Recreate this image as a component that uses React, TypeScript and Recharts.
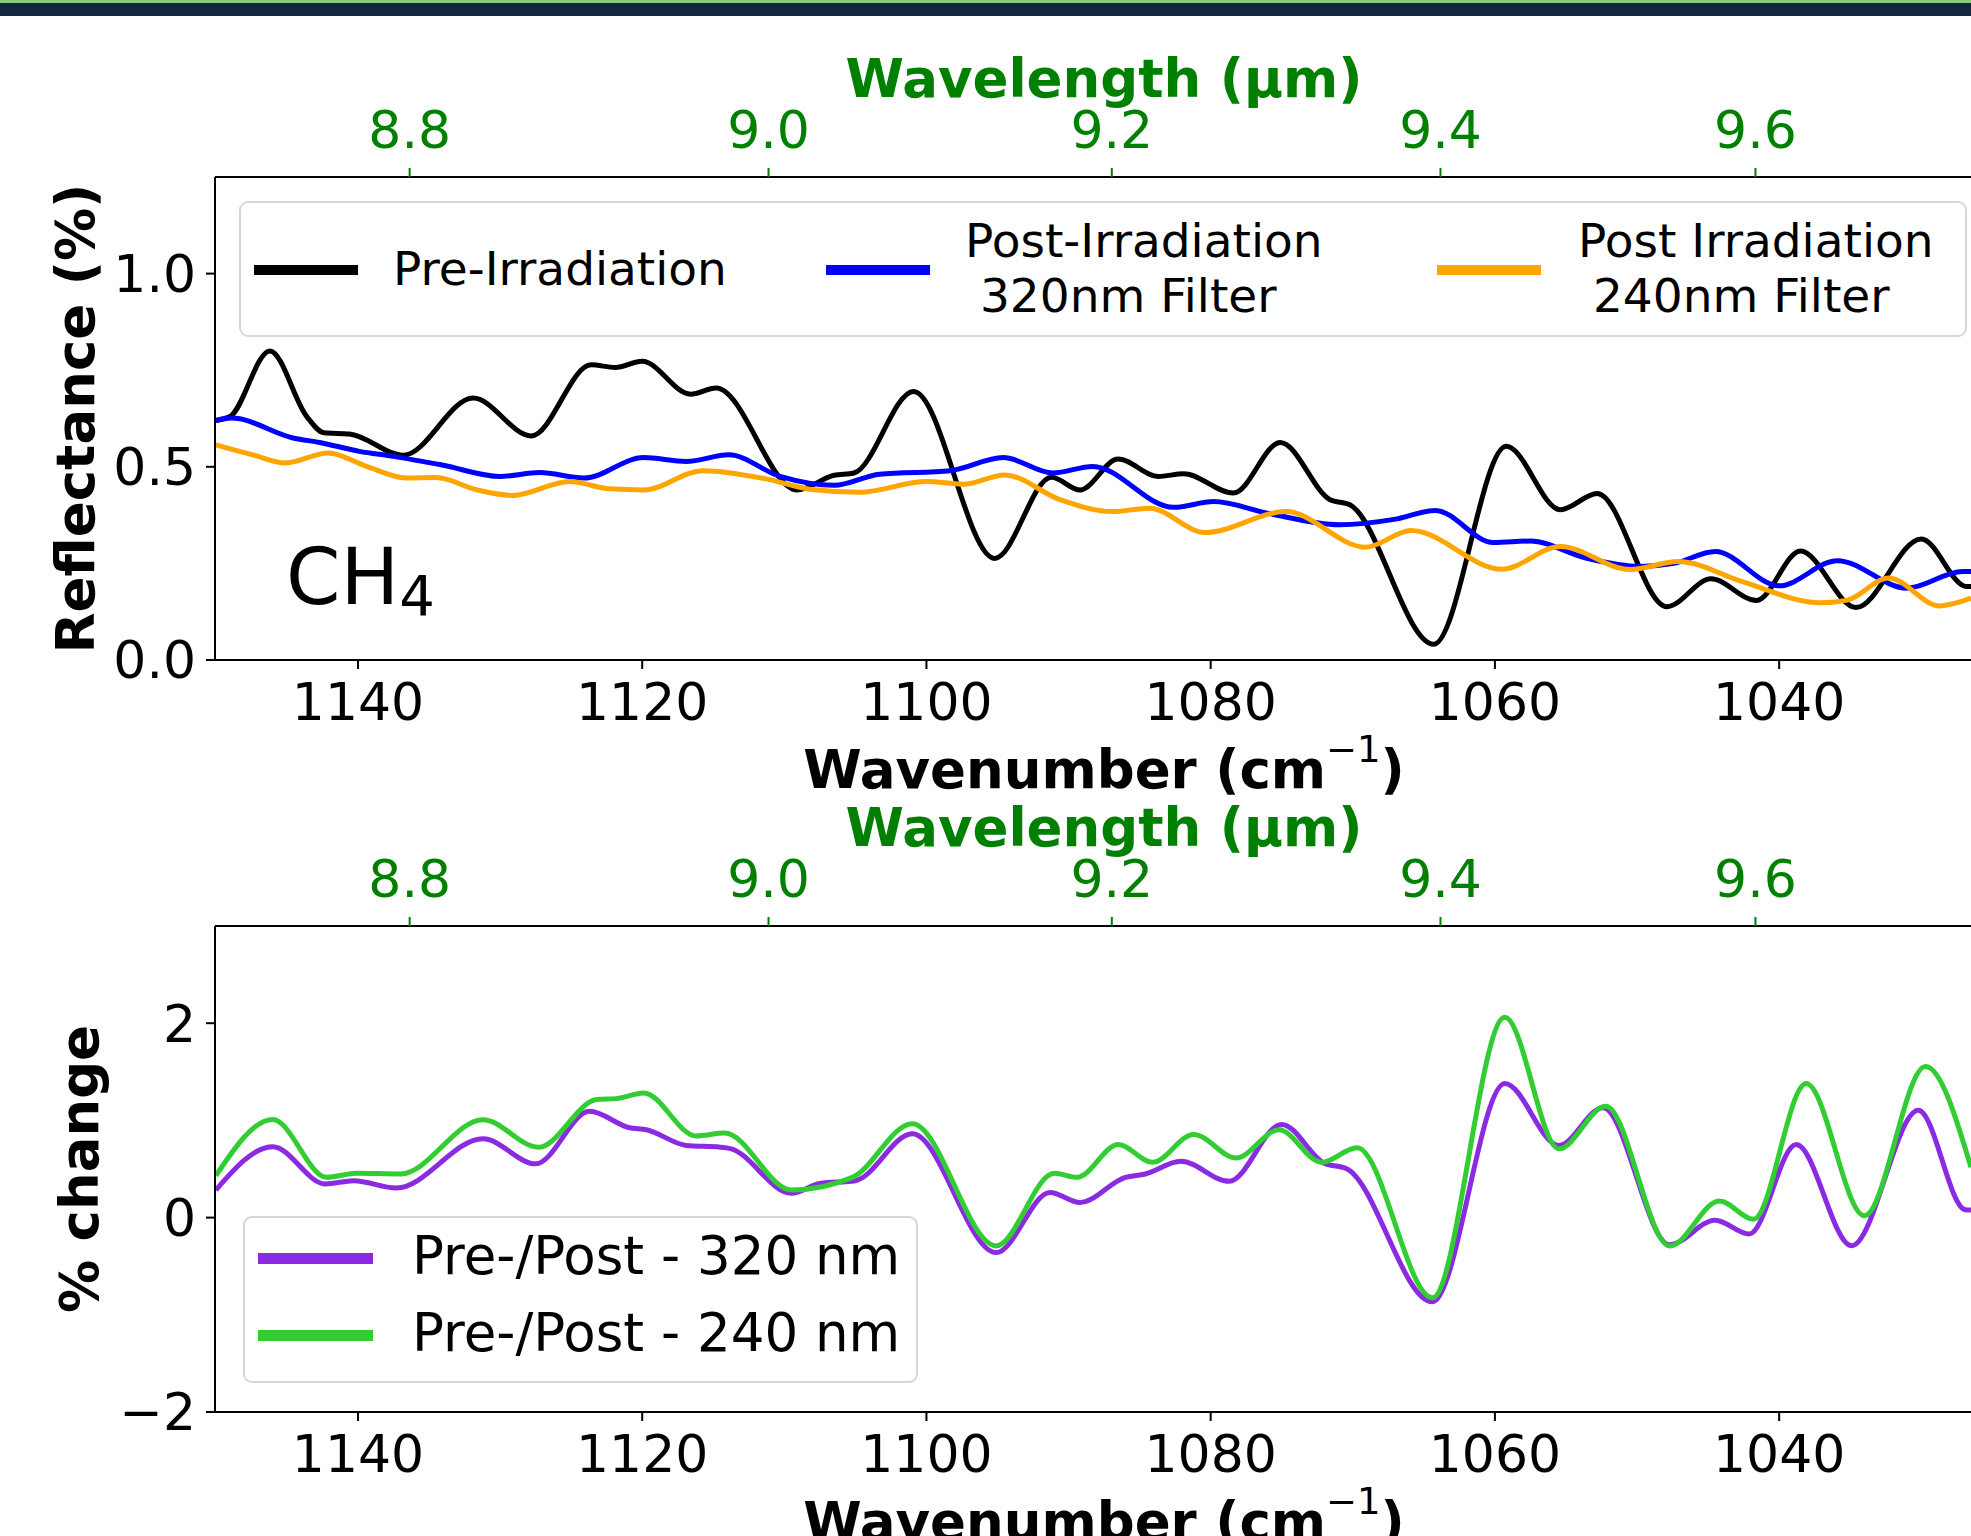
import React from 'react';
import { LineChart, Line, XAxis, YAxis } from 'recharts';

// wavenumber (cm-1), value — at the peaks / troughs
const preIrradiation: [number, number][] = [
  [1150.0, 0.62], [1149.0, 0.63], [1146.2, 0.8], [1143.6, 0.63], [1142.4, 0.588],
  [1140.6, 0.585], [1136.8, 0.53], [1131.9, 0.678], [1127.8, 0.58], [1123.6, 0.764],
  [1121.9, 0.757], [1120.0, 0.773], [1116.6, 0.688], [1114.8, 0.704], [1109.1, 0.44],
  [1106.5, 0.478], [1105.1, 0.484], [1100.9, 0.695], [1095.2, 0.263], [1091.2, 0.473],
  [1089.2, 0.44], [1086.5, 0.52], [1083.7, 0.475], [1081.9, 0.482], [1078.4, 0.432],
  [1075.1, 0.563], [1071.6, 0.415], [1070.2, 0.402], [1064.3, 0.041], [1059.2, 0.553],
  [1055.4, 0.389], [1052.8, 0.431], [1047.9, 0.138], [1044.8, 0.21], [1041.6, 0.154],
  [1038.5, 0.282], [1034.6, 0.136], [1030.0, 0.313], [1026.8, 0.19], [1026.5, 0.19],
];

const post320: [number, number][] = [
  [1150.0, 0.62], [1148.9, 0.626], [1144.5, 0.574], [1142.7, 0.563], [1139.9, 0.54],
  [1137.5, 0.527], [1134.0, 0.504], [1130.0, 0.475], [1127.2, 0.485], [1124.1, 0.471],
  [1119.9, 0.524], [1116.9, 0.514], [1113.9, 0.531], [1110.3, 0.475], [1106.5, 0.452],
  [1103.3, 0.481], [1098.3, 0.49], [1094.6, 0.524], [1091.1, 0.484], [1088.3, 0.501],
  [1082.6, 0.395], [1079.8, 0.41], [1076.0, 0.38], [1070.9, 0.35], [1067.1, 0.364],
  [1064.2, 0.387], [1060.1, 0.304], [1057.5, 0.308], [1053.6, 0.264], [1049.8, 0.242],
  [1047.4, 0.25], [1044.5, 0.281], [1040.0, 0.192], [1035.9, 0.257], [1031.0, 0.186],
  [1027.1, 0.229], [1026.5, 0.229],
];

const post240: [number, number][] = [
  [1150.0, 0.557], [1147.4, 0.531], [1145.1, 0.51], [1142.1, 0.536], [1139.4, 0.501],
  [1136.6, 0.471], [1134.5, 0.472], [1131.6, 0.44], [1129.1, 0.426], [1125.1, 0.462],
  [1122.3, 0.443], [1119.9, 0.44], [1115.7, 0.49], [1111.2, 0.468], [1108.2, 0.442],
  [1104.7, 0.434], [1100.0, 0.462], [1097.4, 0.455], [1094.5, 0.479], [1090.6, 0.415],
  [1086.9, 0.384], [1084.3, 0.393], [1080.4, 0.33], [1074.7, 0.384], [1069.1, 0.292],
  [1065.9, 0.335], [1059.5, 0.235], [1055.4, 0.294], [1050.5, 0.234], [1047.1, 0.255],
  [1042.6, 0.203], [1037.1, 0.148], [1035.2, 0.155], [1032.3, 0.212], [1028.7, 0.14],
  [1026.5, 0.16],
];

const change320: [number, number][] = [
  [1150.0, 0.284], [1146.0, 0.73], [1142.3, 0.346], [1140.3, 0.38], [1137.3, 0.305],
  [1131.2, 0.811], [1127.5, 0.553], [1123.7, 1.093], [1120.9, 0.925], [1119.7, 0.904],
  [1116.9, 0.742], [1114.5, 0.724], [1113.8, 0.71], [1109.5, 0.25], [1107.5, 0.35],
  [1105.0, 0.38], [1101.0, 0.862], [1095.1, -0.36], [1091.3, 0.259], [1089.2, 0.156],
  [1086.0, 0.414], [1084.6, 0.449], [1082.1, 0.58], [1078.7, 0.373], [1075.0, 0.959],
  [1072.0, 0.559], [1070.4, 0.501], [1064.4, -0.867], [1059.3, 1.38], [1055.5, 0.742],
  [1052.4, 1.13], [1047.7, -0.28], [1044.5, -0.026], [1042.1, -0.168], [1038.8, 0.752],
  [1034.9, -0.29], [1030.2, 1.105], [1026.9, 0.08], [1026.5, 0.077],
];

const change240: [number, number][] = [
  [1150.0, 0.432], [1146.0, 1.01], [1142.2, 0.414], [1140.1, 0.456], [1137.0, 0.449],
  [1131.2, 1.007], [1127.3, 0.724], [1123.2, 1.214], [1121.8, 1.224], [1119.9, 1.282],
  [1116.2, 0.84], [1114.2, 0.87], [1109.5, 0.284], [1105.2, 0.414], [1101.0, 0.966],
  [1095.1, -0.291], [1091.0, 0.456], [1089.4, 0.414], [1086.5, 0.752], [1084.1, 0.569],
  [1081.2, 0.855], [1078.2, 0.614], [1075.2, 0.904], [1072.2, 0.569], [1069.7, 0.718],
  [1064.4, -0.825], [1059.3, 2.061], [1055.5, 0.708], [1052.2, 1.145], [1047.7, -0.291],
  [1044.2, 0.17], [1041.8, -0.016], [1038.1, 1.379], [1034.0, 0.019], [1029.7, 1.555],
  [1026.5, 0.517],
];

const wavenumberTicks = [1140, 1120, 1100, 1080, 1060, 1040];
const wavelengthTicks = [8.8, 9.0, 9.2, 9.4, 9.6];
const reflectanceTicks = [0, 0.5, 1.0];
const changeTicks = [-2, 0, 2];

const topLegendLabels = ['Pre-Irradiation', 'Post-Irradiation\n 320nm Filter', 'Post Irradiation\n 240nm Filter'];
const bottomLegendLabels = ['Pre-/Post - 320 nm', 'Pre-/Post - 240 nm'];

const FONT = '"DejaVu Sans", Verdana, sans-serif';
const GREEN = '#008000';
const X_DOMAIN = [1026.5, 1150.06];
const LABEL_CX = 1104;
const LABEL_SIZE = 53;

const toPoints = (rows: [number, number][]) => rows.map(([w, v]) => ({ w, v }));

interface Series {
  rows: [number, number][];
  color: string;
}

interface PanelProps {
  top: number;
  series: Series[];
  yDomain: number[];
  yTicks: number[];
  yFormat: (v: number) => string;
  yLabel: string;
  yLabelX: number;
  bottomAxisH: number;
  lineWidth: number;
}

const tickStyle = { fill: '#000', fontSize: 52, fontFamily: FONT };

const Panel: React.FC<PanelProps> = ({
  top, series, yDomain, yTicks, yFormat, yLabel, yLabelX, bottomAxisH, lineWidth,
}) => (
  <div style={{ position: 'absolute', left: 0, top, width: 1971, height: 800 }}>
    <LineChart width={1971} height={800} margin={{ top: 0, right: 0, bottom: 0, left: 0 }}>
      <XAxis
        xAxisId="top"
        orientation="top"
        dataKey="w"
        type="number"
        reversed
        domain={X_DOMAIN}
        allowDataOverflow
        height={177}
        ticks={wavelengthTicks.map(l => 10000 / l)}
        interval={0}
        tickFormatter={(v: number) => (10000 / v).toFixed(1)}
        tick={{ fill: GREEN, fontSize: 52, fontFamily: FONT }}
        tickSize={9}
        tickMargin={20}
        axisLine={{ stroke: '#000', strokeWidth: 2 }}
        tickLine={{ stroke: GREEN, strokeWidth: 2 }}
        label={(p: any) => (
          <text
            x={LABEL_CX}
            y={p.viewBox.y + p.viewBox.height - 80}
            textAnchor="middle"
            fill={GREEN}
            fontSize={LABEL_SIZE}
            fontWeight="bold"
            fontFamily={FONT}
          >
            Wavelength (μm)
          </text>
        )}
      />
      <XAxis
        xAxisId="bottom"
        dataKey="w"
        type="number"
        reversed
        domain={X_DOMAIN}
        allowDataOverflow
        height={bottomAxisH}
        ticks={wavenumberTicks}
        interval={0}
        tick={tickStyle}
        tickSize={9}
        tickMargin={14}
        axisLine={{ stroke: '#000', strokeWidth: 2 }}
        tickLine={{ stroke: '#000', strokeWidth: 2 }}
        label={(p: any) => (
          <text
            x={LABEL_CX}
            y={p.viewBox.y + 128}
            textAnchor="middle"
            fill="#000"
            fontSize={LABEL_SIZE}
            fontWeight="bold"
            fontFamily={FONT}
          >
            Wavenumber (cm
            <tspan dy={-26} fontSize={37} fontWeight="normal">−1</tspan>
            <tspan dy={26}>)</tspan>
          </text>
        )}
      />
      <YAxis
        type="number"
        domain={yDomain}
        allowDataOverflow
        width={215}
        ticks={yTicks}
        interval={0}
        tickFormatter={yFormat}
        tick={tickStyle}
        tickSize={9}
        tickMargin={10}
        axisLine={{ stroke: '#000', strokeWidth: 2 }}
        tickLine={{ stroke: '#000', strokeWidth: 2 }}
        label={(p: any) => {
          const cy = p.viewBox.y + p.viewBox.height / 2;
          return (
            <text
              x={yLabelX}
              y={cy}
              transform={`rotate(-90, ${yLabelX}, ${cy})`}
              textAnchor="middle"
              fill="#000"
              fontSize={LABEL_SIZE}
              fontWeight="bold"
              fontFamily={FONT}
            >
              {yLabel}
            </text>
          );
        }}
      />
      {series.map((s, i) => (
        <Line
          key={i}
          xAxisId="bottom"
          data={toPoints(s.rows)}
          dataKey="v"
          type="monotone"
          stroke={s.color}
          strokeWidth={lineWidth}
          dot={false}
          activeDot={false}
          isAnimationActive={false}
        />
      ))}
    </LineChart>
  </div>
);

const boxStyle: React.CSSProperties = {
  position: 'absolute',
  boxSizing: 'border-box',
  border: '2px solid #d6d6d6',
  borderRadius: 9,
  background: 'rgba(255,255,255,0.8)',
};

const Swatch = ({ left, width, cy, h, color }: any) => (
  <div style={{ position: 'absolute', left, width, top: cy - h / 2, height: h, background: color }} />
);

const LegendText = ({ left, cy, size, lines, children }: any) => {
  const lh = Math.round(size * 1.17);
  return (
    <div
      style={{
        position: 'absolute',
        left,
        top: cy - (lh * lines) / 2 - 2,
        fontSize: size,
        lineHeight: `${lh}px`,
        fontFamily: FONT,
        color: '#000',
        whiteSpace: 'pre',
      }}
    >
      {children}
    </div>
  );
};

const App: React.FC = () => {
  const topColors = ['#000000', '#0000ff', '#ffa500'];
  const bottomColors = ['#8a2be2', '#32cd32'];
  const topSwatchX = [254, 826, 1437];
  const topTextX = [393, 965, 1578];

  return (
    <div
      style={{
        position: 'absolute',
        left: 0,
        top: 0,
        width: 1971,
        height: 1536,
        overflow: 'hidden',
        background: '#fff',
        fontFamily: FONT,
      }}
    >
      <div style={{ position: 'absolute', left: 0, top: 0, width: 1971, height: 3, background: '#8ccc80' }} />
      <div style={{ position: 'absolute', left: 0, top: 3, width: 1971, height: 13, background: '#112840' }} />

      <Panel
        top={0}
        series={[
          { rows: preIrradiation, color: topColors[0] },
          { rows: post320, color: topColors[1] },
          { rows: post240, color: topColors[2] },
        ]}
        yDomain={[0, 1.25]}
        yTicks={reflectanceTicks}
        yFormat={(v: number) => v.toFixed(1)}
        yLabel="Reflectance (%)"
        yLabelX={94}
        bottomAxisH={140}
        lineWidth={5}
      />

      <Panel
        top={749}
        series={[
          { rows: change320, color: bottomColors[0] },
          { rows: change240, color: bottomColors[1] },
        ]}
        yDomain={[-2, 3]}
        yTicks={changeTicks}
        yFormat={(v: number) => (v < 0 ? `\u2212${Math.abs(v)}` : String(v))}
        yLabel="% change"
        yLabelX={98}
        bottomAxisH={137}
        lineWidth={5}
      />

      {/* CH4 annotation */}
      <svg style={{ position: 'absolute', left: 0, top: 0 }} width={1971} height={800}>
        <text x={286} y={604} fontSize={78} fontFamily={FONT} fill="#000">
          CH<tspan dy={11} fontSize={56}>4</tspan>
        </text>
      </svg>

      {/* top legend */}
      <div style={{ ...boxStyle, left: 239, top: 201, width: 1728, height: 136 }} />
      {topLegendLabels.map((label, i) => (
        <React.Fragment key={label}>
          <Swatch left={topSwatchX[i]} width={104} cy={270} h={10} color={topColors[i]} />
          <LegendText left={topTextX[i]} cy={270} size={47} lines={label.split('\n').length}>
            {label}
          </LegendText>
        </React.Fragment>
      ))}

      {/* bottom legend */}
      <div style={{ ...boxStyle, left: 243, top: 1216, width: 675, height: 167 }} />
      {bottomLegendLabels.map((label, i) => (
        <React.Fragment key={label}>
          <Swatch left={258} width={115} cy={1258 + i * 77} h={11} color={bottomColors[i]} />
          <LegendText left={412} cy={1258 + i * 77} size={53} lines={1}>
            {label}
          </LegendText>
        </React.Fragment>
      ))}
    </div>
  );
};

export default App;
